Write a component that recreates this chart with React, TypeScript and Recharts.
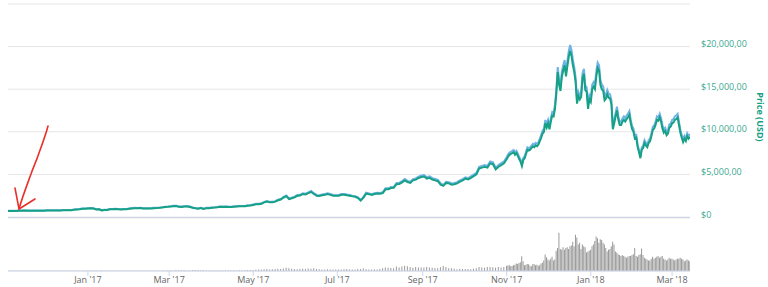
import React from 'react';
import { ComposedChart, Line, Bar, XAxis, YAxis, CartesianGrid } from 'recharts';

// first part: one value every 2nd day from 2016-11-04 to 2017-10-30
const EARLY_START = '2016-11-04';
const earlyPrice = [
  705, 710, 705, 715, 735, 745, 750, 740, 740, 745, 740, 735, 735, 745, // Nov 16
  765, 765, 760, 770, 775, 770, 780, 785, 790, 800, 865, 890, 900, 975, 960, // Dec
  1000, 1030, 1000, 890, 900, 780, 825, 820, 905, 900, 925, 920, 890, 920, 915, 970, // Jan 17
  1010, 1040, 1025, 1060, 995, 1000, 1000, 1010, 1040, 1050, 1080, 1120, 1170, 1190, // Feb
  1225, 1270, 1280, 1190, 1180, 1230, 1240, 1180, 1080, 1020, 970, 1040, 935, 1040, 1040, // Mar
  1080, 1100, 1140, 1190, 1180, 1200, 1180, 1170, 1210, 1230, 1250, 1250, 1260, 1320, 1350, // Apr
  1420, 1490, 1510, 1550, 1720, 1820, 1720, 1730, 1800, 1960, 2050, 2290, 2450, 2100, 2200, 2300, // May
  2490, 2520, 2700, 2650, 2800, 2950, 2700, 2500, 2470, 2550, 2600, 2700, 2600, 2500, 2480, // Jun
  2500, 2600, 2620, 2550, 2500, 2420, 2370, 2230, 1930, 2280, 2750, 2680, 2580, 2700, 2750, // Jul
  2720, 2800, 3250, 3250, 3400, 3420, 3850, 3880, 4070, 4300, 4100, 4000, 4300, 4380, 4580, 4700, // Aug
  4750, 4500, 4600, 4400, 4300, 4200, 3800, 3650, 4000, 3950, 3800, 3850, 3950, 4150, 4300, // Sep
  4500, 4400, 4600, 4800, 5000, 5700, 5800, 5900, 5800, 6300, 6200, 5600, 5900, 6100, 6300, // Oct
];
const earlyVolume = [
  90, 90, 110, 95, 120, 100, 95, 90, 85, 80, 75, 95, 90, 100,
  80, 75, 85, 80, 75, 80, 90, 95, 100, 110, 140, 150, 120, 180, 160,
  150, 200, 350, 300, 180, 250, 120, 100, 140, 110, 110, 100, 100, 80, 90, 140,
  160, 110, 180, 140, 130, 110, 100, 120, 130, 140, 200, 300, 260, 350,
  400, 350, 450, 420, 380, 480, 350, 300, 550, 600, 520, 400, 380, 250, 300,
  300, 320, 280, 330, 350, 400, 300, 280, 250, 300, 380, 400, 420, 500, 550,
  600, 700, 800, 900, 1000, 1100, 900, 1000, 1100, 1300, 1200, 1400, 1800, 1500, 1300, 1200,
  1000, 1100, 1300, 1100, 1400, 1300, 1500, 1200, 1000, 900, 800, 1000, 900, 900, 900,
  800, 900, 1000, 1100, 900, 900, 800, 1100, 1200, 1400, 1000, 900, 900, 1000, 900,
  1200, 1600, 2000, 1800, 1700, 1500, 2500, 2000, 2500, 3000, 2700, 2300, 1900, 2200, 2000, 2000,
  2000, 2300, 2000, 1800, 1700, 1500, 2100, 2800, 2200, 1600, 1500, 1300, 1000, 1300, 1200,
  1200, 1100, 1000, 1300, 1500, 2300, 2000, 1900, 2300, 2300, 2100, 1900, 2200, 2000, 2200,
];

// second part: daily from 2017-11-01 to 2018-03-14
const LATE_START = '2017-11-01';
const latePrice = [
  6800, 7100, 7300, 7400, 7500, 7600, 7300, 7500, 7200, 6800, 6500, 6000, 6700, 6900, 7400,
  7900, 7800, 7900, 8100, 8300, 8200, 8400, 8300, 8500, 8900, 9300, 9800, 10000, 11000, 10500, // Nov
  11000, 10300, 11200, 11900, 11800, 12700, 14500, 17000, 15500, 14800, 16500, 17200, 17800, 16500, 17700, 18800,
  19500, 18900, 17800, 17000, 15800, 13300, 14200, 13800, 14100, 16300, 16800, 14900, 14700, 12700, 13800, // Dec
  13500, 15000, 15300, 15000, 16500, 17500, 17200, 15500, 15000, 14800, 13700, 13900, 14400, 14000, 13900, 13200,
  10300, 11000, 11800, 12500, 11400, 10800, 10800, 11200, 11400, 11200, 11500, 11700, 12000, 11000, 10300, // Jan 18
  10000, 9200, 9300, 8200, 7600, 6900, 7900, 8100, 8700, 8400, 8200, 8700, 8900, 9500,
  10200, 10400, 10800, 11400, 11300, 11700, 11200, 10400, 9900, 10100, 9600, 9800, 10500, 10600, // Feb
  11000, 11100, 11400, 11500, 11700, 10800, 9900, 9300, 8800, 9200, 8900, 9500, 9200, 9400, // Mar
];
const lateVolume = [
  3000, 3100, 3300, 2700, 2800, 3200, 3600, 4200, 4000, 4500, 5000, 8300, 5500, 3200, 3500,
  4000, 3800, 3000, 2700, 3800, 4000, 3300, 3500, 3000, 3300, 4200, 4600, 6000, 9400, 7800,
  6500, 6000, 6900, 8000, 6000, 6500, 11500, 13000, 21700, 12500, 12000, 13500, 12000, 13000, 13500, 12500,
  14000, 14500, 16500, 14000, 20500, 19000, 15000, 16000, 12500, 15000, 14000, 13500, 10500, 11000, 11500,
  12000, 14000, 15000, 17000, 19500, 18500, 16000, 18000, 17500, 16000, 15000, 13000, 11000, 12000, 12500, 14000,
  16600, 15000, 11000, 10500, 9500, 9000, 8500, 9000, 8500, 8000, 7500, 8000, 8500, 8500, 9000,
  9500, 13000, 8500, 8000, 9000, 9500, 12800, 9000, 7500, 7000, 6500, 6000, 6000, 7000,
  8000, 7000, 7500, 8000, 8500, 7500, 8000, 8500, 7000, 6500, 6000, 6500, 7500, 7000,
  7000, 6500, 6000, 6500, 7000, 7000, 7500, 7000, 6500, 5500, 6000, 6500, 6000, 5500,
];

const priceTicks = [0, 5000, 10000, 15000, 20000, 25000];
const monthTicks = ['2017-01-01', '2017-03-01', '2017-05-01', '2017-07-01', '2017-09-01', '2017-11-01', '2018-01-01', '2018-03-01'];
const monthLabels = ["Jan '17", "Mar '17", "May '17", "Jul '17", "Sep '17", "Nov '17", "Jan '18", "Mar '18"];

const DAY = 86400000;
const ms = (d: string) => Date.parse(d + 'T00:00:00Z');
const T0 = ms(EARLY_START);
const T1 = ms('2018-03-14');
const tickTimes = monthTicks.map(ms);

const rows = [
  ...earlyPrice.map((p, i) => ({ t: T0 + i * 2 * DAY, price: p, volume: earlyVolume[i] })),
  ...latePrice.map((p, i) => ({ t: ms(LATE_START) + i * DAY, price: p, volume: lateVolume[i] })),
];

const TEAL = '#16a085';
const BLUE = '#6fb3e6';

const fmtPrice = (v: number) => (v === 0 ? '$0' : `$${v.toLocaleString('en-US')},00`);

const PriceTick = (props: any) => {
  const { x, y, payload } = props;
  if (payload.value === 25000) return <g />;
  return (
    <text x={x} y={y - 3} dominantBaseline="central" textAnchor="start" fontSize={9} fill="#3aa88f">
      {fmtPrice(payload.value)}
    </text>
  );
};

export default function App() {
  return (
    <div style={{ position: 'absolute', left: 0, top: 0, width: 768, height: 287, background: '#fff', fontFamily: '"Open Sans", sans-serif' }}>
      <div style={{ position: 'absolute', left: 0, top: 0 }}>
        <ComposedChart width={768} height={224} data={rows} margin={{ top: 4, right: 18, left: 8, bottom: 7 }}>
          <CartesianGrid yAxisId="price" vertical={false} stroke="#e6e6e6" />
          <XAxis type="number" dataKey="t" domain={[T0, T1]} hide allowDataOverflow />
          <YAxis yAxisId="price" orientation="right" domain={[0, 25000]} ticks={priceTicks} width={60}
            axisLine={false} tickLine={false} tickMargin={5} tick={PriceTick} interval={0} />
          <YAxis yAxisId="cap" hide domain={[0, 24150]} />
          <Line yAxisId="cap" dataKey="price" name="Market Cap" stroke={BLUE} strokeWidth={2} dot={false} isAnimationActive={false} />
          <Line yAxisId="price" dataKey="price" name="Price (USD)" stroke={TEAL} strokeWidth={2} dot={false} isAnimationActive={false} />
        </ComposedChart>
      </div>
      <div style={{ position: 'absolute', left: 0, top: 218 }}>
        <ComposedChart width={768} height={69} data={rows} margin={{ top: 0, right: 78, left: 8, bottom: 0 }}>
          <CartesianGrid vertical={false} stroke="#e6e6e6" />
          <XAxis type="number" dataKey="t" domain={[T0, T1]} ticks={tickTimes} interval={0} height={16}
            tickFormatter={(v: number) => monthLabels[tickTimes.indexOf(v)]}
            axisLine={{ stroke: '#ccd6eb' }} tickLine={{ stroke: '#ccd6eb' }} tickSize={5} tickMargin={1}
            tick={{ fontSize: 9, fill: '#666' }} allowDataOverflow />
          <YAxis domain={[0, 30000]} ticks={[0, 15000, 30000]} width={0} tick={false} tickLine={false}
            axisLine={{ stroke: '#ccd6eb' }} />
          <Bar dataKey="volume" name="Volume" fill="#999" barSize={1} isAnimationActive={false} />
        </ComposedChart>
      </div>
      <svg width={768} height={287} style={{ position: 'absolute', left: 0, top: 0, pointerEvents: 'none' }}>
        <line x1={8} x2={690} y1={217.5} y2={217.5} stroke="#ccd6eb" />
        <text x={760} y={117} transform="rotate(90 760 117)" textAnchor="middle" dominantBaseline="central"
          fontSize={9} fontWeight="bold" fill={TEAL}>Price (USD)</text>
        <path d="M48,126 C46,134 43,142 39,153 C36,162 33,168 31,174 C27,185 22,198 19,209"
          fill="none" stroke="#e8312a" strokeWidth={1.6} strokeLinecap="round" />
        <path d="M15,188 L19,209 L35,199" fill="none" stroke="#e8312a" strokeWidth={1.6} strokeLinecap="round" strokeLinejoin="round" />
      </svg>
    </div>
  );
}
